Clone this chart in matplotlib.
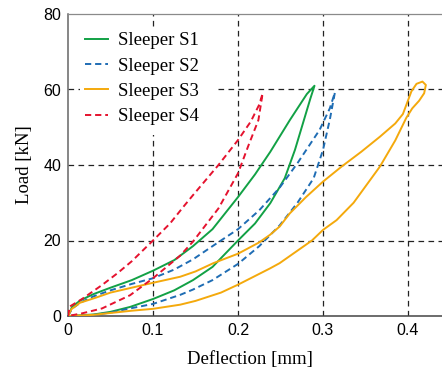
import matplotlib
matplotlib.use("Agg")
import matplotlib.pyplot as plt
from matplotlib.patches import Rectangle

# ---- data (deflection mm, load kN) ----
s1_up_x = [0, 0.005, 0.015, 0.03, 0.05, 0.075, 0.1, 0.125, 0.147, 0.17, 0.2, 0.22, 0.238, 0.261, 0.281, 0.29]
s1_up_y = [0, 2.5, 4.2, 5.8, 7.5, 9.5, 12, 14.8, 18.5, 23, 31.5, 37.5, 43.5, 51.9, 58.8, 61]
s1_lo_x = [0, 0.03, 0.05, 0.073, 0.1, 0.125, 0.147, 0.17, 0.2, 0.22, 0.238, 0.255, 0.267, 0.277, 0.285, 0.29]
s1_lo_y = [0, 0.4, 1.1, 2.4, 4.5, 6.8, 9.5, 13, 20, 24.5, 29.9, 36.5, 44, 51.5, 57.5, 61]

s2_up_x = [0, 0.005, 0.015, 0.03, 0.05, 0.075, 0.1, 0.125, 0.147, 0.17, 0.2, 0.225, 0.249, 0.27, 0.296, 0.308, 0.314]
s2_up_y = [0, 2, 3.6, 5.2, 6.8, 8.5, 10, 12.3, 15, 18.5, 23, 28, 34, 40.5, 49.3, 55, 59.2]
s2_lo_x = [0, 0.03, 0.05, 0.073, 0.1, 0.132, 0.147, 0.17, 0.2, 0.225, 0.249, 0.27, 0.289, 0.3, 0.308, 0.314]
s2_lo_y = [0, 0.3, 0.9, 2, 3.2, 5.6, 7, 9.5, 13.8, 18.5, 24, 30, 36.5, 44, 52, 59.2]

s3_up_x = [0, 0.004, 0.014, 0.032, 0.05, 0.075, 0.1, 0.132, 0.15, 0.171, 0.2, 0.225, 0.2376, 0.249, 0.261, 0.28, 0.3, 0.322,
           0.345, 0.367, 0.385, 0.394, 0.399, 0.404, 0.41, 0.417]
s3_up_y = [0, 1.8, 3.5, 4.8, 6.2, 7.5, 8.8, 10.4, 11.8, 14, 16.5, 19.5, 21.5, 23.7, 27.2, 31.5, 35.6, 39.6,
           43.5, 47.5, 51, 53.5, 56.5, 59.5, 61.5, 62.1]
s3_lo_x = [0, 0.03, 0.05, 0.075, 0.1, 0.132, 0.15, 0.18, 0.2, 0.2376, 0.249, 0.287, 0.3, 0.316, 0.336, 0.367, 0.385, 0.398,
           0.405, 0.413, 0.419, 0.421]
s3_lo_y = [0, 0.3, 0.8, 1.4, 1.9, 3.0, 4.0, 6.2, 8.3, 12.6, 14, 20, 22.8, 25.4, 30, 39.6, 46.5, 52.5,
           55, 57, 59, 61.2]

s4_up_x = [0, 0.002, 0.0165, 0.04, 0.058, 0.075, 0.1, 0.12, 0.136, 0.147, 0.177, 0.2, 0.215, 0.225, 0.229]
s4_up_y = [0, 2.5, 4.5, 8.2, 11.3, 14.5, 20, 24.5, 29, 32, 40, 46.6, 51.5, 56, 59]
s4_lo_x = [0, 0.0165, 0.04, 0.073, 0.1, 0.132, 0.147, 0.177, 0.2, 0.212, 0.224, 0.229]
s4_lo_y = [0, 0.7, 2, 5.5, 10, 16, 19.7, 28.5, 37.8, 45, 51.9, 59]

labels = ["Sleeper S1", "Sleeper S2", "Sleeper S3", "Sleeper S4"]
colors = ["#12a145", "#1f6db4", "#f4a90c", "#e5122e"]
styles = ["-", "--", "-", "--"]

x_ticks = [0, 0.1, 0.2, 0.3, 0.4]
x_ticklabels = ["0", "0.1", "0.2", "0.3", "0.4"]
y_ticks = [0, 20, 40, 60, 80]
y_ticklabels = ["0", "20", "40", "60", "80"]

fig = plt.figure(figsize=(4.42, 3.68), dpi=100)
ax = fig.add_axes([68 / 442, 52 / 368, 374 / 442, 302 / 368])

series = [(s1_up_x, s1_up_y, s1_lo_x, s1_lo_y),
          (s2_up_x, s2_up_y, s2_lo_x, s2_lo_y),
          (s3_up_x, s3_up_y, s3_lo_x, s3_lo_y),
          (s4_up_x, s4_up_y, s4_lo_x, s4_lo_y)]

for (ux, uy, lx, ly), lab, c, ls in zip(series, labels, colors, styles):
    xs = list(ux) + list(lx[::-1])
    ys = list(uy) + list(ly[::-1])
    kw = dict(color=c, lw=1.4, label=lab, zorder=3, solid_joinstyle="round")
    if ls == "--":
        kw["dashes"] = (3.2, 2.0)
    ax.plot(xs, ys, ls, **kw)

ax.set_xlim(0, 0.44)
ax.set_ylim(0, 80)
ax.set_xticks(x_ticks)
ax.set_xticklabels(x_ticklabels)
ax.set_yticks(y_ticks)
ax.set_yticklabels(y_ticklabels)
for t in ax.get_xticklabels() + ax.get_yticklabels():
    t.set_fontfamily("Liberation Sans")
    t.set_fontsize(11.5)
ax.tick_params(length=0, pad=5)

for v in x_ticks[1:]:
    ax.axvline(v, color="#222222", lw=0.9, dashes=(4.5, 3.5), zorder=1)
for v in y_ticks[1:-1]:
    ax.axhline(v, color="#222222", lw=0.9, dashes=(4.5, 3.5), zorder=1)

# white background behind the legend (hides the grid there)
ax.add_patch(Rectangle((0.032, 0.60), 0.37, 0.357, transform=ax.transAxes,
                       facecolor="white", edgecolor="none", zorder=2))

ax.spines["right"].set_visible(False)
ax.spines["top"].set_color("#8a8a8a")
ax.spines["top"].set_linewidth(0.9)
ax.spines["left"].set_color("#666666")
ax.spines["left"].set_linewidth(1.1)
ax.spines["bottom"].set_color("#444444")
ax.spines["bottom"].set_linewidth(1.1)

ax.set_xlabel("Deflection [mm]", fontfamily="Liberation Serif", fontsize=13.5)
ax.xaxis.set_label_coords(0.487, -0.115)
ax.set_ylabel("Load [kN]", fontfamily="Liberation Serif", fontsize=13.5, labelpad=7)

leg = ax.legend(loc="upper left", bbox_to_anchor=(0.045, 0.94), frameon=False,
                borderaxespad=0, borderpad=0,
                prop={"family": "Liberation Serif", "size": 13.5},
                handlelength=1.25, handletextpad=0.5, labelspacing=0.44)

fig.savefig("out.png", dpi=100)
